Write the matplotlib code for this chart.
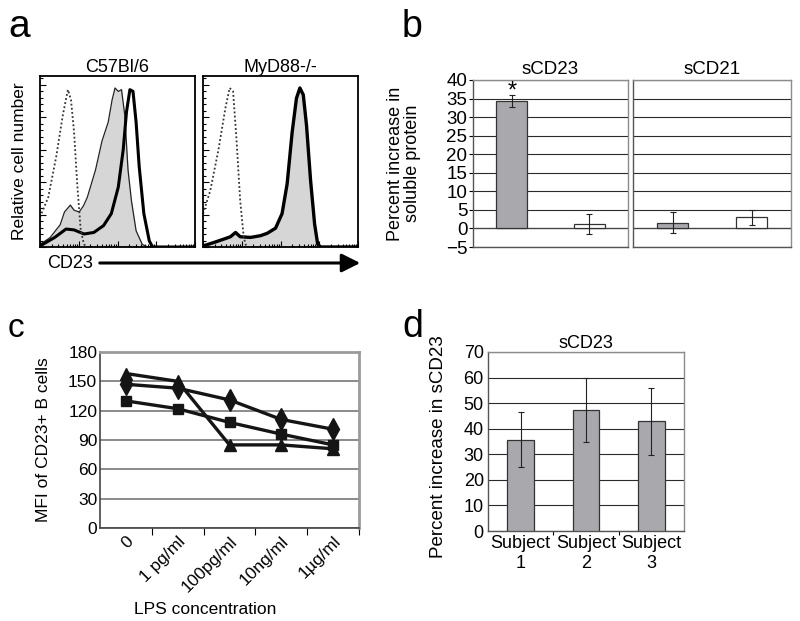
import numpy as np
import matplotlib
matplotlib.use("Agg")
import matplotlib.pyplot as plt

plt.rcParams['font.family'] = ['Liberation Sans', 'DejaVu Sans']
plt.rcParams['font.size'] = 12.5

# ---- panel a: CD23 histograms (x = channel %, y = % of axis height)
wt_iso_x = [0, 5.3, 10.5, 14.7, 18, 20, 22, 24, 26.3, 28.4, 30.5, 100]
wt_iso_y = [17.5, 29, 53, 77, 92, 86, 67, 37, 9.5, 1.6, 0, 0]
wt_fill_x = [0, 6.5, 13, 15.8, 19.6, 22, 25.3, 28, 30.5, 35.8, 40, 44, 46.5, 48.4,
             50.5, 52.6, 54.7, 56.8, 59, 62, 66, 69.5, 100]
wt_fill_y = [1.5, 5.5, 13, 20.5, 24.5, 21.5, 20.5, 24, 29, 45, 62, 73, 86, 93,
             91, 92, 77, 45, 27, 9.5, 1.5, 0, 0]
wt_line_x = [0, 9.5, 16.8, 22, 28.4, 34.7, 41, 46, 50.5, 53.7, 55.8, 58, 60, 62,
             64, 67, 70.5, 72.6, 100]
wt_line_y = [0.6, 5.6, 10.5, 10, 7.6, 8.5, 12.5, 19.5, 35, 57, 79, 92, 91, 73,
             47, 19.5, 3.6, 0, 0]

ko_iso_x = [0, 4.7, 10, 14.4, 17.2, 19.4, 21.6, 24, 26.3, 28, 100]
ko_iso_y = [19.5, 33, 57, 81, 93, 91, 63, 27, 5.6, 0, 0]
ko_x = [0, 6.9, 13.4, 17.7, 21, 24, 30.6, 37, 41.4, 46.8, 51, 54.3, 57.5, 60.3,
        62.5, 64.7, 66.8, 69.4, 72, 74, 76, 100]
ko_y = [0.6, 2.6, 4.6, 6, 8.5, 6, 5.6, 6.6, 8, 11, 19.5, 37, 67, 87,
        93, 89, 71, 39, 13.5, 1.6, 0, 0]

# ---- panel b
b_groups = ['sCD23', 'sCD21']
b_vals = [[34.3, 1.3], [1.5, 3.0]]
b_errs = [[1.7, 2.7], [2.8, 2.0]]

# ---- panel c
c_labels = ['0', '1 pg/ml', '100pg/ml', '10ng/ml', '1\u00b5g/ml']
c_diamond = [147, 143, 131, 111, 101]
c_square = [130, 122, 108, 96, 85]
c_triangle = [158, 150, 85, 85, 81]

# ---- panel d
d_labels = ['Subject\n1', 'Subject\n2', 'Subject\n3']
d_vals = [35.7, 47.2, 42.9]
d_errs = [10.7, 12.5, 13.2]

W, H = 800, 621
fig = plt.figure(figsize=(8, 6.21), dpi=100)


def box(x0, y0, x1, y1):
    return [x0 / W, 1 - y1 / H, (x1 - x0) / W, (y1 - y0) / H]


BAR_GRAY = '#a9a9ad'
FRAME_GRAY = '#8c8c8c'

# ================= panel a =================
def hist_axes(rect, title):
    ax = fig.add_axes(rect)
    ax.set_xlim(0, 100)
    ax.set_ylim(0, 100)
    for s in ax.spines.values():
        s.set_linewidth(1.3)
    ax.set_xticks([0, 25, 50, 75, 100])
    minors = [25 * d + 25 * np.log10(k) for d in range(4) for k in range(2, 10)]
    ax.set_xticks(minors, minor=True)
    ax.set_yticks([0, 19, 38, 57, 76, 95])
    ax.set_yticks(np.arange(0, 100, 3.8), minor=True)
    ax.tick_params(which='both', direction='in', labelbottom=False, labelleft=False,
                   width=0.8)
    ax.tick_params(which='major', length=4)
    ax.tick_params(which='minor', length=2)
    ax.set_title(title, fontsize=13, pad=3)
    return ax

ax = hist_axes(box(40, 76, 195, 247), 'C57Bl/6')
ax.fill_between(wt_fill_x, wt_fill_y, color='#d6d6d6', lw=0)
ax.plot(wt_fill_x, wt_fill_y, color='#222222', lw=0.9)
ax.plot(wt_line_x, wt_line_y, color='black', lw=2.2)
ax.plot(wt_iso_x, wt_iso_y, color='#333333', lw=1.3, ls=(0, (1, 1.3)))
ax.set_ylabel('Relative cell number', fontsize=12.5)
ax.yaxis.set_label_coords(-0.085, 0.5)

ax = hist_axes(box(203, 76, 358, 247), 'MyD88-/-')
ax.fill_between(ko_x, ko_y, color='#d6d6d6', lw=0)
ax.plot(ko_x, ko_y, color='black', lw=2.4)
ax.plot(ko_iso_x, ko_iso_y, color='#333333', lw=1.3, ls=(0, (1, 1.3)))

fig.text(47 / W, 1 - 263 / H, 'CD23', fontsize=13, va='center', ha='left')
fig.add_artist(matplotlib.patches.FancyArrowPatch(
    (97 / W, 1 - 263 / H), (363 / W, 1 - 263 / H), transform=fig.transFigure,
    arrowstyle='-|>', mutation_scale=28, lw=2.2, color='black'))

fig.text(8 / W, 1 - 37 / H, 'a', fontsize=28, ha='left', va='baseline')

# ================= panel b =================
def style_grid_axes(ax):
    for side in ['top', 'right']:
        ax.spines[side].set_color(FRAME_GRAY)
    for side in ['left', 'bottom']:
        ax.spines[side].set_color('#555555')
    for s in ax.spines.values():
        s.set_linewidth(1.0)
    ax.yaxis.grid(True, color='#2a2a2a', lw=0.8)
    ax.set_axisbelow(True)

b_rects = [box(473, 80, 628, 247), box(633, 80, 791, 247)]
for i, grp in enumerate(b_groups):
    ax = fig.add_axes(b_rects[i])
    style_grid_axes(ax)
    ax.set_xlim(-0.5, 1.5)
    ax.set_ylim(-5, 40)
    ax.set_yticks(np.arange(-5, 41, 5))
    ax.axhline(0, color='#444444', lw=0.9)
    ax.bar([0, 1], b_vals[i], width=0.4, color=[BAR_GRAY, 'white'],
           edgecolor='#333333', lw=0.9, zorder=3)
    ax.errorbar([0, 1], b_vals[i], yerr=b_errs[i], fmt='none', ecolor='#222222',
                elinewidth=0.8, capsize=2, capthick=0.8, zorder=4)
    ax.set_xticks([])
    ax.set_title(grp, fontsize=13.5, pad=4)
    if i == 0:
        ax.tick_params(axis='y', length=3, labelsize=13.5, pad=1)
        ax.set_ylabel('Percent increase in\nsoluble protein', fontsize=13,
                      linespacing=1.0)
        ax.yaxis.set_label_coords(-0.335, 0.5)
        ax.text(0, b_vals[i][0] + b_errs[i][0] - 0.6, '*', ha='center',
                va='baseline', fontsize=17)
    else:
        ax.tick_params(axis='y', length=0, labelleft=False)

fig.text(402 / W, 1 - 37 / H, 'b', fontsize=27, ha='left', va='baseline')

# ================= panel c =================
ax = fig.add_axes(box(100, 352, 359, 528))
ax.set_xlim(-0.5, 4.5)
ax.set_ylim(0, 180)
ax.set_yticks(np.arange(0, 181, 30))
for side in ['top', 'right']:
    ax.spines[side].set_color('#9a9a9a')
    ax.spines[side].set_linewidth(2.0)
for side in ['left', 'bottom']:
    ax.spines[side].set_color('#444444')
    ax.spines[side].set_linewidth(1.2)
ax.yaxis.grid(True, color='#8a8a8a', lw=1.4)
ax.set_axisbelow(True)
xc = np.arange(len(c_labels))
ax.plot(xc, c_diamond, color='#151515', lw=2.4, marker='d', ms=11, zorder=3)
ax.plot(xc, c_square, color='#151515', lw=2.4, marker='s', ms=7.5, zorder=3)
ax.plot(xc, c_triangle, color='#151515', lw=2.4, marker='^', ms=8.5, zorder=3)
ax.set_xticks(xc + 0.5)
ax.set_xticklabels([])
ax.tick_params(axis='x', which='major', direction='out', length=5)
ax.set_xticks(xc, minor=True)
ax.set_xticklabels(c_labels, minor=True, rotation=45, ha='right',
                   rotation_mode='anchor', fontsize=12.5)
ax.tick_params(axis='x', which='minor', length=0, pad=4)
ax.tick_params(axis='y', length=0, labelsize=12.5, pad=2)
ax.set_ylabel('MFI of CD23+ B cells', fontsize=12.5)
ax.yaxis.set_label_coords(-0.19, 0.5)
ax.set_xlabel('LPS concentration', fontsize=12.5)
ax.xaxis.set_label_coords(0.405, -0.42)

fig.text(8 / W, 1 - 337 / H, 'c', fontsize=24, ha='left', va='baseline')

# ================= panel d =================
ax = fig.add_axes(box(488, 352, 684, 531))
style_grid_axes(ax)
ax.set_xlim(-0.5, 2.5)
ax.set_ylim(0, 70)
ax.set_yticks(np.arange(0, 71, 10))
xd = np.arange(len(d_labels))
ax.bar(xd, d_vals, width=0.41, color=BAR_GRAY, edgecolor='#333333', lw=0.9, zorder=3)
ax.errorbar(xd, d_vals, yerr=d_errs, fmt='none', ecolor='#222222',
            elinewidth=0.8, capsize=2, capthick=0.8, zorder=4)
ax.set_xticks(xd[:-1] + 0.5)
ax.set_xticklabels([])
ax.tick_params(axis='x', which='major', direction='out', length=3)
ax.set_xticks(xd, minor=True)
ax.set_xticklabels(d_labels, minor=True, fontsize=13, linespacing=1.25)
ax.tick_params(axis='x', which='minor', length=0, pad=3)
ax.tick_params(axis='y', length=0, labelsize=13, pad=3)
ax.set_title('sCD23', fontsize=13, pad=3)
ax.set_ylabel('Percent increase in sCD23', fontsize=13.5)
ax.yaxis.set_label_coords(-0.21, 0.47)

fig.text(402 / W, 1 - 337 / H, 'd', fontsize=27, ha='left', va='baseline')

fig.savefig('out.png', dpi=100, facecolor='white')
